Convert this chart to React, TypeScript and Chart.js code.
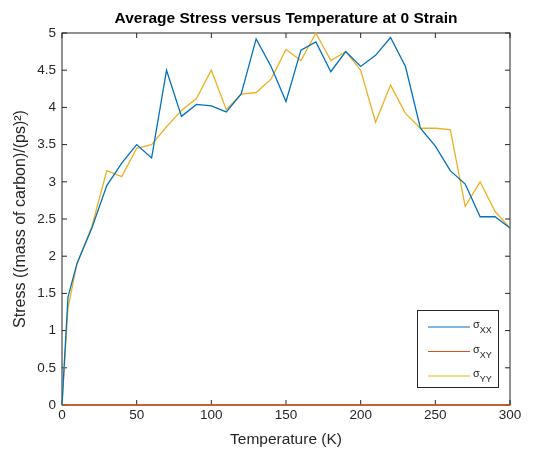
import React, { useEffect, useRef } from "react";
import { Chart, registerables } from "chart.js";

Chart.register(...registerables);

const chartTitle = "Average Stress versus Temperature at 0 Strain";
const xTitle = "Temperature (K)";
const yTitle = "Stress ((mass of carbon)/(ps)\u00B2)";

const temperatures = [0, 4, 10, 20, 30, 40, 50, 60, 70, 80, 90, 100, 110, 120, 130, 140, 150, 160, 170, 180, 190, 200, 210, 220, 230, 240, 250, 260, 270, 280, 290, 300];
const sigmaXX = [0, 1.45, 1.9, 2.38, 2.95, 3.25, 3.5, 3.32, 4.5, 3.88, 4.04, 4.02, 3.94, 4.18, 4.92, 4.55, 4.08, 4.77, 4.88, 4.48, 4.75, 4.55, 4.7, 4.94, 4.55, 3.72, 3.48, 3.15, 2.97, 2.53, 2.53, 2.38];
const sigmaXY = [0, 0, 0, 0, 0, 0, 0, 0, 0, 0, 0, 0, 0, 0, 0, 0, 0, 0, 0, 0, 0, 0, 0, 0, 0, 0, 0, 0, 0, 0, 0, 0];
const sigmaYY = [0, 1.3, 1.9, 2.4, 3.15, 3.07, 3.45, 3.5, 3.74, 3.96, 4.12, 4.5, 3.97, 4.18, 4.2, 4.38, 4.78, 4.63, 5.0, 4.63, 4.75, 4.5, 3.8, 4.3, 3.92, 3.72, 3.72, 3.7, 2.67, 3.0, 2.6, 2.38];

const seriesSymbol = "\u03C3";
const seriesSubscripts = ["XX", "XY", "YY"];
const seriesColors = ["#0072BD", "#D95319", "#EDB120"];

const xTickValues = [0, 50, 100, 150, 200, 250, 300];
const yTickValues = [0, 0.5, 1, 1.5, 2, 2.5, 3, 3.5, 4, 4.5, 5];

const FONT = '"Liberation Sans", Arial, Helvetica, sans-serif';
const INK = "#262626";

const titlePlugin = {
  id: "centeredTitle",
  afterDraw(chart: any) {
    const { ctx, chartArea } = chart;
    ctx.save();
    ctx.fillStyle = "#000000";
    ctx.font = `bold 15.5px ${FONT}`;
    ctx.textAlign = "center";
    ctx.textBaseline = "middle";
    ctx.fillText(chartTitle, (chartArea.left + chartArea.right) / 2, chartArea.top - 14);
    ctx.restore();
  },
};

const framePlugin = {
  id: "matlabFrame",
  beforeDatasetsDraw(chart: any) {
    const { ctx, chartArea } = chart;
    const xs = chart.scales.x;
    const ys = chart.scales.y;
    const tl = 5;
    ctx.save();
    ctx.strokeStyle = INK;
    ctx.lineWidth = 1;
    ctx.strokeRect(chartArea.left, chartArea.top, chartArea.right - chartArea.left, chartArea.bottom - chartArea.top);
    ctx.beginPath();
    xs.ticks.forEach((t: any) => {
      const px = xs.getPixelForValue(t.value);
      ctx.moveTo(px, chartArea.bottom);
      ctx.lineTo(px, chartArea.bottom - tl);
      ctx.moveTo(px, chartArea.top);
      ctx.lineTo(px, chartArea.top + tl);
    });
    ys.ticks.forEach((t: any) => {
      const py = ys.getPixelForValue(t.value);
      ctx.moveTo(chartArea.left, py);
      ctx.lineTo(chartArea.left + tl, py);
      ctx.moveTo(chartArea.right, py);
      ctx.lineTo(chartArea.right - tl, py);
    });
    ctx.stroke();
    ctx.restore();
  },
};

const legendPlugin = {
  id: "matlabLegend",
  afterDraw(chart: any) {
    const { ctx, chartArea } = chart;
    const boxW = 81;
    const boxH = 77;
    const right = chartArea.right - 12;
    const bottom = chartArea.bottom - 18;
    const left = right - boxW;
    const top = bottom - boxH;
    ctx.save();
    ctx.fillStyle = "#ffffff";
    ctx.fillRect(left, top, boxW, boxH);
    ctx.strokeStyle = INK;
    ctx.lineWidth = 1;
    ctx.strokeRect(left + 0.5, top + 0.5, boxW, boxH);
    chart.data.datasets.forEach((ds: any, i: number) => {
      const y = top + 17 + i * 24.5;
      ctx.strokeStyle = ds.borderColor;
      ctx.lineWidth = 1.2;
      ctx.beginPath();
      ctx.moveTo(left + 11, y);
      ctx.lineTo(left + 53, y);
      ctx.stroke();
      ctx.fillStyle = INK;
      ctx.textAlign = "left";
      ctx.textBaseline = "middle";
      ctx.font = `11px ${FONT}`;
      ctx.fillText(seriesSymbol, left + 56, y - 2);
      const w = ctx.measureText(seriesSymbol).width;
      ctx.font = `9px ${FONT}`;
      ctx.fillText(seriesSubscripts[i], left + 56 + w, y + 4);
    });
    ctx.restore();
  },
};

export default function App() {
  const ref = useRef<HTMLCanvasElement | null>(null);
  useEffect(() => {
    if (!ref.current) return;
    const mk = (vals: number[]) => temperatures.map((t, i) => ({ x: t, y: vals[i] }));
    const chart = new Chart(ref.current, {
      type: "line",
      data: {
        datasets: [sigmaXX, sigmaXY, sigmaYY].map((vals, i) => ({
          label: seriesSymbol + seriesSubscripts[i],
          data: mk(vals),
          borderColor: seriesColors[i],
          backgroundColor: seriesColors[i],
          borderWidth: 1.3,
          pointRadius: 0,
          tension: 0,
          clip: 4,
        })),
      },
      options: {
        responsive: false,
        animation: false,
        layout: { padding: { left: 0, right: 41, top: 33, bottom: 0 } },
        plugins: {
          legend: { display: false },
          tooltip: { enabled: false },
          title: { display: false },
        },
        scales: {
          x: {
            type: "linear",
            min: 0,
            max: 300,
            afterFit: (s: any) => {
              s.height = 45;
            },
            afterBuildTicks: (s: any) => {
              s.ticks = xTickValues.map((v) => ({ value: v }));
            },
            grid: { display: false, drawTicks: false },
            border: { display: false },
            ticks: {
              color: INK,
              font: { family: FONT, size: 13.5 },
              padding: 2,
              maxRotation: 0,
              callback: (v: any) => String(v),
            },
            title: {
              display: true,
              text: xTitle,
              color: INK,
              font: { family: FONT, size: 15.5 },
              padding: { top: 0, bottom: 1 },
            },
          },
          y: {
            type: "linear",
            min: 0,
            max: 5,
            afterFit: (s: any) => {
              s.width = 62;
            },
            afterBuildTicks: (s: any) => {
              s.ticks = yTickValues.map((v) => ({ value: v }));
            },
            grid: { display: false, drawTicks: false },
            border: { display: false },
            ticks: {
              color: INK,
              font: { family: FONT, size: 13.5 },
              padding: 6,
              callback: (v: any) => String(v),
            },
            title: {
              display: true,
              text: yTitle,
              color: INK,
              font: { family: FONT, size: 16 },
              padding: { top: 11, bottom: 0 },
            },
          },
        },
      },
      plugins: [framePlugin, titlePlugin, legendPlugin],
    });
    return () => chart.destroy();
  }, []);
  return (
    <div style={{ position: "absolute", left: 0, top: 0, width: 551, height: 450, background: "#fff" }}>
      <canvas ref={ref} width={551} height={450} style={{ display: "block" }} />
    </div>
  );
}
